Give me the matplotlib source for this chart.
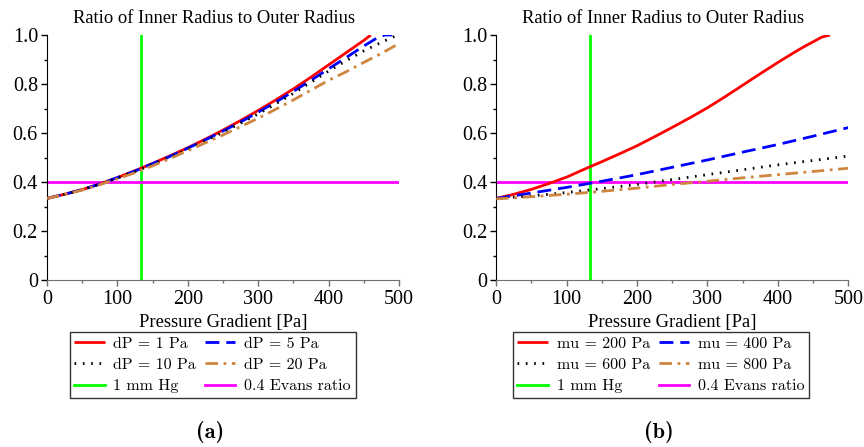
import matplotlib
matplotlib.use("Agg")
import matplotlib.pyplot as plt
from matplotlib.ticker import MultipleLocator, FuncFormatter

# ---- data ----
# panel (a): varying dP
dp1_x = [0, 25, 50, 75, 100, 125, 150, 175, 200, 225, 250, 275, 300, 325, 350, 375, 400, 425, 450, 460]
dp1_y = [0.333, 0.350, 0.369, 0.392, 0.418, 0.446, 0.476, 0.507, 0.540, 0.575, 0.612, 0.651, 0.692, 0.735,
         0.780, 0.828, 0.878, 0.928, 0.978, 1.0]
dp5_x = [0, 25, 50, 75, 100, 125, 150, 175, 200, 225, 250, 275, 300, 325, 350, 375, 400, 425, 450, 470, 480, 490]
dp5_y = [0.333, 0.350, 0.369, 0.392, 0.418, 0.445, 0.475, 0.505, 0.538, 0.572, 0.608, 0.645, 0.685, 0.726,
         0.770, 0.815, 0.862, 0.908, 0.955, 0.990, 1.0, 1.0]
dp10_x = [0, 25, 50, 75, 100, 125, 150, 175, 200, 225, 250, 275, 300, 325, 350, 375, 400, 425, 450, 475, 494, 500]
dp10_y = [0.333, 0.350, 0.369, 0.391, 0.416, 0.443, 0.472, 0.502, 0.534, 0.568, 0.603, 0.640, 0.678, 0.719,
          0.762, 0.807, 0.853, 0.895, 0.935, 0.970, 0.995, 1.0]
dp20_x = [0, 25, 50, 75, 100, 125, 150, 175, 200, 225, 250, 275, 300, 325, 350, 375, 400, 425, 450, 475, 500]
dp20_y = [0.333, 0.349, 0.367, 0.389, 0.413, 0.438, 0.466, 0.496, 0.528, 0.560, 0.592, 0.626, 0.660, 0.697,
          0.735, 0.775, 0.815, 0.850, 0.888, 0.925, 0.965]

# panel (b): varying mu
mu200_x = [0, 25, 50, 75, 100, 125, 150, 175, 200, 225, 250, 275, 300, 325, 350, 375, 400, 425, 437, 450, 462, 474]
mu200_y = [0.333, 0.350, 0.370, 0.394, 0.420, 0.452, 0.483, 0.515, 0.548, 0.585, 0.623, 0.662, 0.703, 0.748,
           0.795, 0.842, 0.888, 0.932, 0.952, 0.972, 0.991, 1.0]
mu400_x = [0, 50, 100, 150, 200, 250, 300, 350, 400, 450, 500]
mu400_y = [0.333, 0.355, 0.378, 0.403, 0.430, 0.460, 0.490, 0.522, 0.553, 0.587, 0.622]
mu600_x = [0, 50, 100, 150, 200, 250, 300, 350, 400, 450, 500]
mu600_y = [0.333, 0.343, 0.357, 0.373, 0.390, 0.410, 0.430, 0.450, 0.470, 0.488, 0.506]
mu800_x = [0, 50, 100, 150, 200, 250, 300, 350, 400, 450, 500]
mu800_y = [0.331, 0.340, 0.350, 0.362, 0.375, 0.390, 0.403, 0.417, 0.430, 0.443, 0.456]

mmhg_x = 133.3
evans_y = 0.4

labels_a = ["dP = 1 Pa", "dP = 5 Pa", "dP = 10 Pa", "dP = 20 Pa"]
labels_b = ["mu = 200 Pa", "mu = 400 Pa", "mu = 600 Pa", "mu = 800 Pa"]

COLORS = ["#ff0000", "#0000ff", "#000000", "#cd853f"]
STYLES = [(0, ()), (0, (5, 2.5)), (0, (0.6, 2.4)), (0, (4.5, 2, 1, 2))]
SERIF = "Liberation Serif"


def style_axes(ax):
    ax.set_xlim(0, 500)
    ax.set_ylim(0, 1.0)
    ax.spines["top"].set_visible(False)
    ax.spines["right"].set_visible(False)
    ax.spines["bottom"].set_color("#707070")
    ax.xaxis.set_major_locator(MultipleLocator(100))
    ax.xaxis.set_minor_locator(MultipleLocator(50))
    ax.yaxis.set_major_locator(MultipleLocator(0.2))
    ax.yaxis.set_minor_locator(MultipleLocator(0.1))
    ax.yaxis.set_major_formatter(FuncFormatter(lambda v, p: "0" if abs(v) < 1e-9 else f"{v:.1f}"))
    ax.tick_params(axis="x", which="major", length=4, width=1, color="#707070", pad=3)
    ax.tick_params(axis="x", which="minor", length=2.5, width=1, color="#707070")
    ax.tick_params(axis="y", which="major", length=4.5, width=1, pad=2)
    ax.tick_params(axis="y", which="minor", length=2.5, width=1)
    for lab in ax.get_xticklabels() + ax.get_yticklabels():
        lab.set_fontfamily(SERIF)
        lab.set_fontsize(14.5)
    ax.set_title("Ratio of Inner Radius to Outer Radius", fontfamily=SERIF, fontsize=13.3,
                 x=0.474, pad=9)
    ax.set_xlabel("Pressure Gradient [Pa]", fontfamily=SERIF, fontsize=13.4, labelpad=4)


def draw_panel(ax, series, labels, tag, legend_x):
    handles = []
    for (xs, ys), lab, c, ls in zip(series, labels, COLORS, STYLES):
        h, = ax.plot(xs, ys, color=c, linestyle=ls, lw=2, label=lab, zorder=3)
        handles.append(h)
    hg = ax.axvline(mmhg_x, ymin=0, ymax=1, color="#00ff00", lw=2, label="1 mm Hg", zorder=2)
    hm = ax.plot([0, 500], [evans_y, evans_y], color="#ff00ff", lw=2, label="0.4 Evans ratio", zorder=2)[0]
    style_axes(ax)
    order = [handles[0], handles[2], hg, handles[1], handles[3], hm]
    fig = ax.figure
    leg = fig.legend(order, [h.get_label() for h in order], ncol=2, loc="upper center",
                     bbox_to_anchor=(legend_x, 0.258), prop={"family": "cmr10", "size": 11.5},
                     frameon=True, fancybox=False, edgecolor="black", handlelength=1.9,
                     handletextpad=0.55, columnspacing=0.55, labelspacing=0.45, borderpad=0.3,
                     borderaxespad=0)
    leg.get_frame().set_linewidth(1)
    fig.text(legend_x - 0.003, 0.034, tag, ha="center", va="center", family="cmb10", fontsize=16)


fig = plt.figure(figsize=(8.64, 4.47), dpi=100)
ax1 = fig.add_axes([0.0544, 0.3736, 0.4074, 0.5481])
ax2 = fig.add_axes([0.5744, 0.3736, 0.4074, 0.5481])

draw_panel(ax1, [(dp1_x, dp1_y), (dp5_x, dp5_y), (dp10_x, dp10_y), (dp20_x, dp20_y)],
           labels_a, "(a)", 0.246)
draw_panel(ax2, [(mu200_x, mu200_y), (mu400_x, mu400_y), (mu600_x, mu600_y), (mu800_x, mu800_y)],
           labels_b, "(b)", 0.765)

fig.savefig("out.png", dpi=100)
plt.close(fig)
